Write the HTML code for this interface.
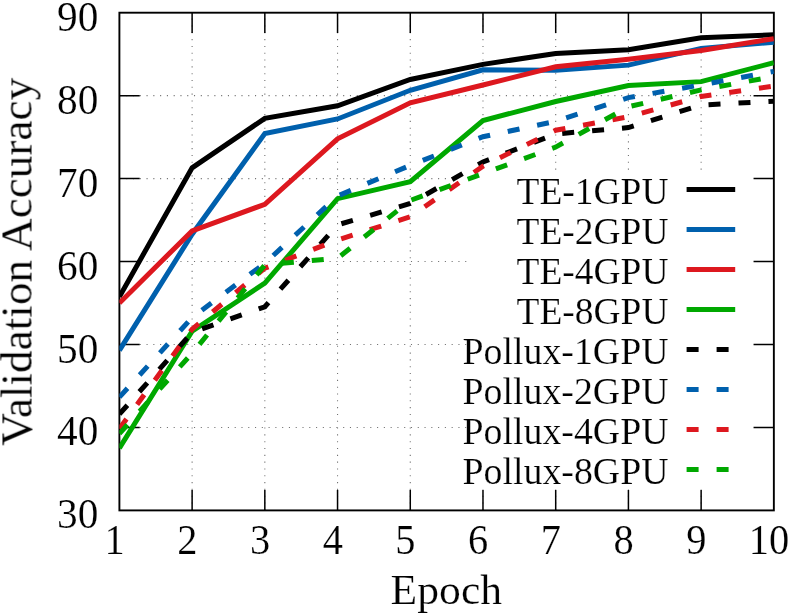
<!DOCTYPE html>
<html><head><meta charset="utf-8"><title>chart</title>
<style>
html,body{margin:0;padding:0;background:#fff;}
body{width:789px;height:616px;overflow:hidden;font-family:"Liberation Serif",serif;}
svg{display:block;position:absolute;left:0;top:0;}
text{font-family:"Liberation Serif",serif;fill:#000;stroke:#fff;stroke-width:0.2px;}
</style></head><body>
<svg width="789" height="616" viewBox="0 0 789 616">
<rect x="0" y="0" width="789" height="616" fill="#fff"/>
<defs><clipPath id="plot"><rect x="119.40" y="12.70" width="654.45" height="497.70"/></clipPath></defs>

<g stroke="#000" stroke-width="1.1" stroke-dasharray="1.1 5.68" fill="none" opacity="0.55">
<path d="M119.40 427.45H773.85"/>
<path d="M119.40 344.50H773.85"/>
<path d="M119.40 261.55H773.85"/>
<path d="M119.40 178.60H773.85"/>
<path d="M119.40 95.65H773.85"/>
<path stroke-dasharray="1.1 5.715" d="M192.12 510.40V12.70"/>
<path stroke-dasharray="1.1 5.715" d="M264.83 510.40V12.70"/>
<path stroke-dasharray="1.1 5.715" d="M337.55 510.40V12.70"/>
<path stroke-dasharray="1.1 5.715" d="M410.27 510.40V12.70"/>
<path stroke-dasharray="1.1 5.715" d="M482.98 510.40V12.70"/>
<path stroke-dasharray="1.1 5.715" d="M555.70 510.40V12.70"/>
<path stroke-dasharray="1.1 5.715" d="M628.42 510.40V12.70"/>
<path stroke-dasharray="1.1 5.715" d="M701.13 510.40V12.70"/>
</g>
<rect x="447.5" y="158" width="80" height="25" fill="#fff"/>
<rect x="467.5" y="170.5" width="300" height="319" fill="#fff"/>
<g stroke="#000" stroke-width="1.90" fill="none" stroke-linecap="butt">
<rect x="119.40" y="12.70" width="654.45" height="497.70"/>
<path stroke-width="1.5" d="M119.40 427.45h20.30M773.85 427.45h-20.30M119.40 344.50h20.30M773.85 344.50h-20.30M119.40 261.55h20.30M773.85 261.55h-20.30M119.40 178.60h20.30M773.85 178.60h-20.30M119.40 95.65h20.30M773.85 95.65h-20.30M192.12 510.40v-20.30M192.12 12.70v20.30M264.83 510.40v-20.30M264.83 12.70v20.30M337.55 510.40v-20.30M337.55 12.70v20.30M410.27 510.40v-20.30M410.27 12.70v20.30M482.98 510.40v-20.30M482.98 12.70v20.30M555.70 510.40v-20.30M555.70 12.70v20.30M628.42 510.40v-20.30M628.42 12.70v20.30M701.13 510.40v-20.30M701.13 12.70v20.30"/>
</g>
<g clip-path="url(#plot)" fill="none" stroke-width="5" stroke-linejoin="miter" stroke-linecap="butt">
<polyline points="119.40,296.80 192.12,167.82 264.83,118.38 337.55,105.77 410.27,79.47 482.98,64.38 555.70,53.51 628.42,49.70 701.13,37.75 773.85,34.85" stroke="#000000"/>
<polyline points="119.40,350.31 192.12,234.18 264.83,133.56 337.55,118.96 410.27,90.26 482.98,69.77 555.70,70.27 628.42,65.12 701.13,48.37 773.85,42.15" stroke="#0060ad"/>
<polyline points="119.40,303.02 192.12,230.86 264.83,204.31 337.55,138.78 410.27,102.87 482.98,85.03 555.70,66.78 628.42,59.32 701.13,50.44 773.85,38.66" stroke="#dd181f"/>
<polyline points="119.40,448.19 192.12,331.23 264.83,283.12 337.55,198.67 410.27,181.67 482.98,120.53 555.70,101.46 628.42,85.45 701.13,81.63 773.85,62.64" stroke="#00a800"/>
<polyline points="119.40,414.18 192.12,332.47 264.83,306.76 337.55,224.89 410.27,203.48 482.98,162.01 555.70,133.97 628.42,127.59 701.13,105.02 773.85,101.21" stroke="#000000" stroke-dasharray="12 18"/>
<polyline points="119.40,397.17 192.12,317.54 264.83,263.21 337.55,196.02 410.27,165.33 482.98,136.71 555.70,121.36 628.42,97.64 701.13,84.87 773.85,71.35" stroke="#0060ad" stroke-dasharray="12 18"/>
<polyline points="119.40,428.69 192.12,329.15 264.83,268.19 337.55,239.98 410.27,216.76 482.98,166.16 555.70,130.24 628.42,116.80 701.13,96.48 773.85,86.03" stroke="#dd181f" stroke-dasharray="12 18"/>
<polyline points="119.40,433.67 192.12,353.21 264.83,264.87 337.55,258.23 410.27,200.42 482.98,173.62 555.70,147.08 628.42,106.77 701.13,89.84 773.85,76.57" stroke="#00a800" stroke-dasharray="12 18"/>
</g>
<g fill="none" stroke-width="5">
<path d="M686.6 189.50H735.2" stroke="#000000"/>
<path d="M686.6 229.50H735.2" stroke="#0060ad"/>
<path d="M686.6 269.50H735.2" stroke="#dd181f"/>
<path d="M686.6 309.50H735.2" stroke="#00a800"/>
<path d="M686.6 349.50H735.2" stroke="#000000" stroke-dasharray="12 18"/>
<path d="M686.6 389.50H735.2" stroke="#0060ad" stroke-dasharray="12 18"/>
<path d="M686.6 429.50H735.2" stroke="#dd181f" stroke-dasharray="12 18"/>
<path d="M686.6 469.50H735.2" stroke="#00a800" stroke-dasharray="12 18"/>
</g>
<g style="opacity:0.999">
<text x="668.5" y="204.10" font-size="37" text-anchor="end" textLength="152" lengthAdjust="spacingAndGlyphs">TE-1GPU</text>
<text x="668.5" y="244.10" font-size="37" text-anchor="end" textLength="152" lengthAdjust="spacingAndGlyphs">TE-2GPU</text>
<text x="668.5" y="284.10" font-size="37" text-anchor="end" textLength="152" lengthAdjust="spacingAndGlyphs">TE-4GPU</text>
<text x="668.5" y="324.10" font-size="37" text-anchor="end" textLength="152" lengthAdjust="spacingAndGlyphs">TE-8GPU</text>
<text x="668.5" y="364.10" font-size="37" text-anchor="end" textLength="206" lengthAdjust="spacingAndGlyphs">Pollux-1GPU</text>
<text x="668.5" y="404.10" font-size="37" text-anchor="end" textLength="206" lengthAdjust="spacingAndGlyphs">Pollux-2GPU</text>
<text x="668.5" y="444.10" font-size="37" text-anchor="end" textLength="206" lengthAdjust="spacingAndGlyphs">Pollux-4GPU</text>
<text x="668.5" y="484.10" font-size="37" text-anchor="end" textLength="206" lengthAdjust="spacingAndGlyphs">Pollux-8GPU</text>
<text x="98.4" y="528.40" font-size="43" text-anchor="end" textLength="41.3" lengthAdjust="spacingAndGlyphs">30</text>
<text x="98.4" y="445.45" font-size="43" text-anchor="end" textLength="41.3" lengthAdjust="spacingAndGlyphs">40</text>
<text x="98.4" y="362.50" font-size="43" text-anchor="end" textLength="41.3" lengthAdjust="spacingAndGlyphs">50</text>
<text x="98.4" y="279.55" font-size="43" text-anchor="end" textLength="41.3" lengthAdjust="spacingAndGlyphs">60</text>
<text x="98.4" y="196.60" font-size="43" text-anchor="end" textLength="41.3" lengthAdjust="spacingAndGlyphs">70</text>
<text x="98.4" y="113.65" font-size="43" text-anchor="end" textLength="41.3" lengthAdjust="spacingAndGlyphs">80</text>
<text x="98.4" y="30.70" font-size="43" text-anchor="end" textLength="41.3" lengthAdjust="spacingAndGlyphs">90</text>
<text x="114.60" y="553.6" font-size="43" text-anchor="middle" textLength="20.2" lengthAdjust="spacingAndGlyphs">1</text>
<text x="187.32" y="553.6" font-size="43" text-anchor="middle" textLength="20.2" lengthAdjust="spacingAndGlyphs">2</text>
<text x="260.03" y="553.6" font-size="43" text-anchor="middle" textLength="20.2" lengthAdjust="spacingAndGlyphs">3</text>
<text x="332.75" y="553.6" font-size="43" text-anchor="middle" textLength="20.2" lengthAdjust="spacingAndGlyphs">4</text>
<text x="405.47" y="553.6" font-size="43" text-anchor="middle" textLength="20.2" lengthAdjust="spacingAndGlyphs">5</text>
<text x="478.18" y="553.6" font-size="43" text-anchor="middle" textLength="20.2" lengthAdjust="spacingAndGlyphs">6</text>
<text x="550.90" y="553.6" font-size="43" text-anchor="middle" textLength="20.2" lengthAdjust="spacingAndGlyphs">7</text>
<text x="623.62" y="553.6" font-size="43" text-anchor="middle" textLength="20.2" lengthAdjust="spacingAndGlyphs">8</text>
<text x="696.33" y="553.6" font-size="43" text-anchor="middle" textLength="20.2" lengthAdjust="spacingAndGlyphs">9</text>
<text x="769.05" y="553.6" font-size="43" text-anchor="middle" textLength="40.5" lengthAdjust="spacingAndGlyphs">10</text>
<text x="390.6" y="604.3" font-size="43" textLength="111.5" lengthAdjust="spacingAndGlyphs">Epoch</text>
<text transform="translate(31.5 445.8) rotate(-90)" font-size="43.5" textLength="368" lengthAdjust="spacingAndGlyphs">Validation Accuracy</text>
</g>
</svg></body></html>
